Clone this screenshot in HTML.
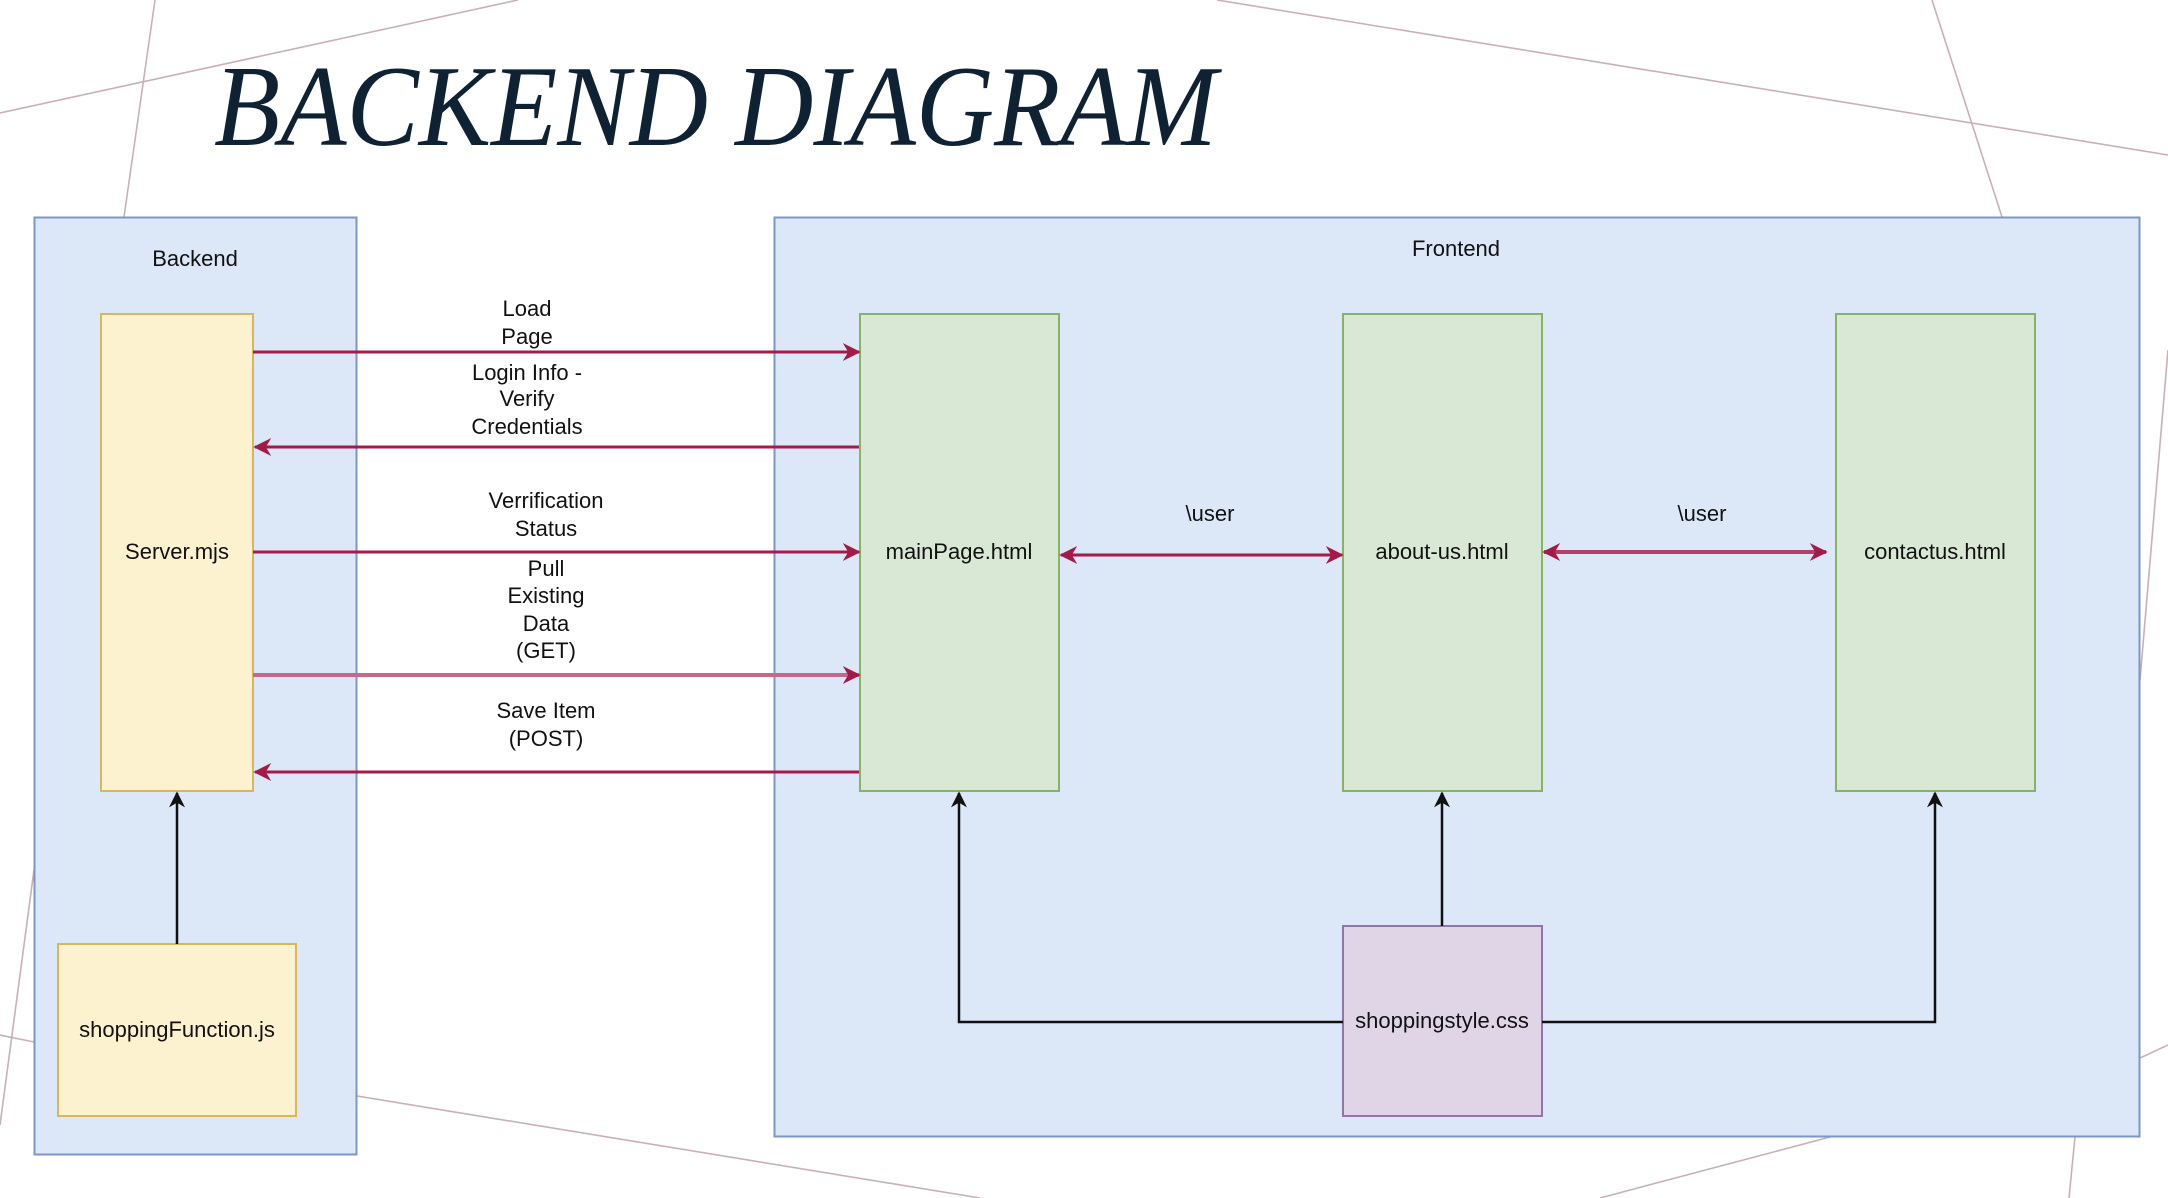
<!DOCTYPE html>
<html><head><meta charset="utf-8"><style>
html,body{margin:0;padding:0;background:#fff;}
svg{display:block;}
text{font-family:"Liberation Sans",Arial,sans-serif;font-size:22px;fill:#111;}
</style></head><body>
<svg width="2168" height="1198" viewBox="0 0 2168 1198" xmlns="http://www.w3.org/2000/svg">
<defs>
<marker id="ar" viewBox="0 0 10 10" refX="9" refY="5" markerWidth="18" markerHeight="18" markerUnits="userSpaceOnUse" orient="auto-start-reverse">
<path d="M0,0 L10,5 L0,10 L3,5 z" fill="#a31c48"/></marker>
<marker id="ab" viewBox="0 0 10 10" refX="9" refY="5" markerWidth="16" markerHeight="16" markerUnits="userSpaceOnUse" orient="auto">
<path d="M0,0 L10,5 L0,10 L3,5 z" fill="#111"/></marker>
</defs>
<g stroke="#c9b0b5" stroke-width="1.6" fill="none">
<line x1="0" y1="113" x2="518" y2="0"/>
<line x1="155" y1="0" x2="124" y2="217"/>
<line x1="1217" y1="0" x2="2168" y2="155"/>
<line x1="1932" y1="0" x2="2002" y2="217"/>
<line x1="2168" y1="350" x2="2140" y2="680"/>
<line x1="2168" y1="1045" x2="2140" y2="1058"/>
<line x1="357" y1="1096" x2="980" y2="1198"/>
<line x1="1600" y1="1198" x2="1830" y2="1137"/>
<line x1="2075" y1="1137" x2="2069" y2="1198"/>
<line x1="0" y1="1035" x2="34" y2="1042"/>
<line x1="34" y1="870" x2="0" y2="1125"/>
</g>
<text x="214" y="145" textLength="1003" lengthAdjust="spacingAndGlyphs" style="font-family:'Liberation Serif',serif;font-style:italic;font-size:115px;fill:#0f2233">BACKEND DIAGRAM</text>
<rect x="34.5" y="217.5" width="322" height="937" fill="#dce7f8" stroke="#7c96c8" stroke-width="2"/>
<rect x="774.5" y="217.5" width="1365" height="919" fill="#dce7f8" stroke="#7c96c8" stroke-width="2"/>
<text x="195" y="266" text-anchor="middle">Backend</text>
<text x="1456" y="256" text-anchor="middle">Frontend</text>
<rect x="101" y="314" width="152" height="477" fill="#fdf2d0" stroke="#d7b65e" stroke-width="2"/>
<rect x="58" y="944" width="238" height="172" fill="#fdf2d0" stroke="#d7b65e" stroke-width="2"/>
<rect x="860" y="314" width="199" height="477" fill="#d9e7d5" stroke="#86b463" stroke-width="2"/>
<rect x="1343" y="314" width="199" height="477" fill="#d9e7d5" stroke="#86b463" stroke-width="2"/>
<rect x="1836" y="314" width="199" height="477" fill="#d9e7d5" stroke="#86b463" stroke-width="2"/>
<rect x="1343" y="926" width="199" height="190" fill="#e0d5e7" stroke="#9474aa" stroke-width="2"/>
<text x="177" y="559" text-anchor="middle">Server.mjs</text>
<text x="177" y="1037" text-anchor="middle">shoppingFunction.js</text>
<text x="959" y="559" text-anchor="middle">mainPage.html</text>
<text x="1442" y="559" text-anchor="middle">about-us.html</text>
<text x="1935" y="559" text-anchor="middle">contactus.html</text>
<text x="1442" y="1028" text-anchor="middle">shoppingstyle.css</text>
<g stroke="#a31c48" stroke-width="3" fill="none">
<line x1="253" y1="352" x2="859" y2="352" marker-end="url(#ar)"/>
<line x1="859" y1="447" x2="255" y2="447" marker-end="url(#ar)"/>
<line x1="253" y1="552" x2="859" y2="552" marker-end="url(#ar)"/>
<line x1="253" y1="675" x2="859" y2="675" stroke="#c6688a" stroke-width="4" marker-end="url(#ar)"/>
<line x1="859" y1="772" x2="255" y2="772" marker-end="url(#ar)"/>
<line x1="1061" y1="555" x2="1342" y2="555" marker-start="url(#ar)" marker-end="url(#ar)"/>
<line x1="1544" y1="552" x2="1826" y2="552" stroke="#b2406a" stroke-width="4" marker-start="url(#ar)" marker-end="url(#ar)"/>
</g>
<g stroke="#111" stroke-width="2.5" fill="none">
<line x1="177" y1="944" x2="177" y2="793" marker-end="url(#ab)"/>
<polyline points="1343,1022 959,1022 959,793" marker-end="url(#ab)"/>
<line x1="1442" y1="926" x2="1442" y2="793" marker-end="url(#ab)"/>
<polyline points="1542,1022 1935,1022 1935,793" marker-end="url(#ab)"/>
</g>
<g text-anchor="middle">
<text x="527" y="316">Load</text><text x="527" y="344">Page</text>
<text x="527" y="380">Login Info -</text><text x="527" y="406">Verify</text><text x="527" y="434">Credentials</text>
<text x="546" y="508">Verrification</text><text x="546" y="536">Status</text>
<text x="546" y="576">Pull</text><text x="546" y="603">Existing</text><text x="546" y="631">Data</text><text x="546" y="658">(GET)</text>
<text x="546" y="718">Save Item</text><text x="546" y="746">(POST)</text>
<text x="1210" y="521">\user</text>
<text x="1702" y="521">\user</text>
</g>
</svg>
</body></html>
